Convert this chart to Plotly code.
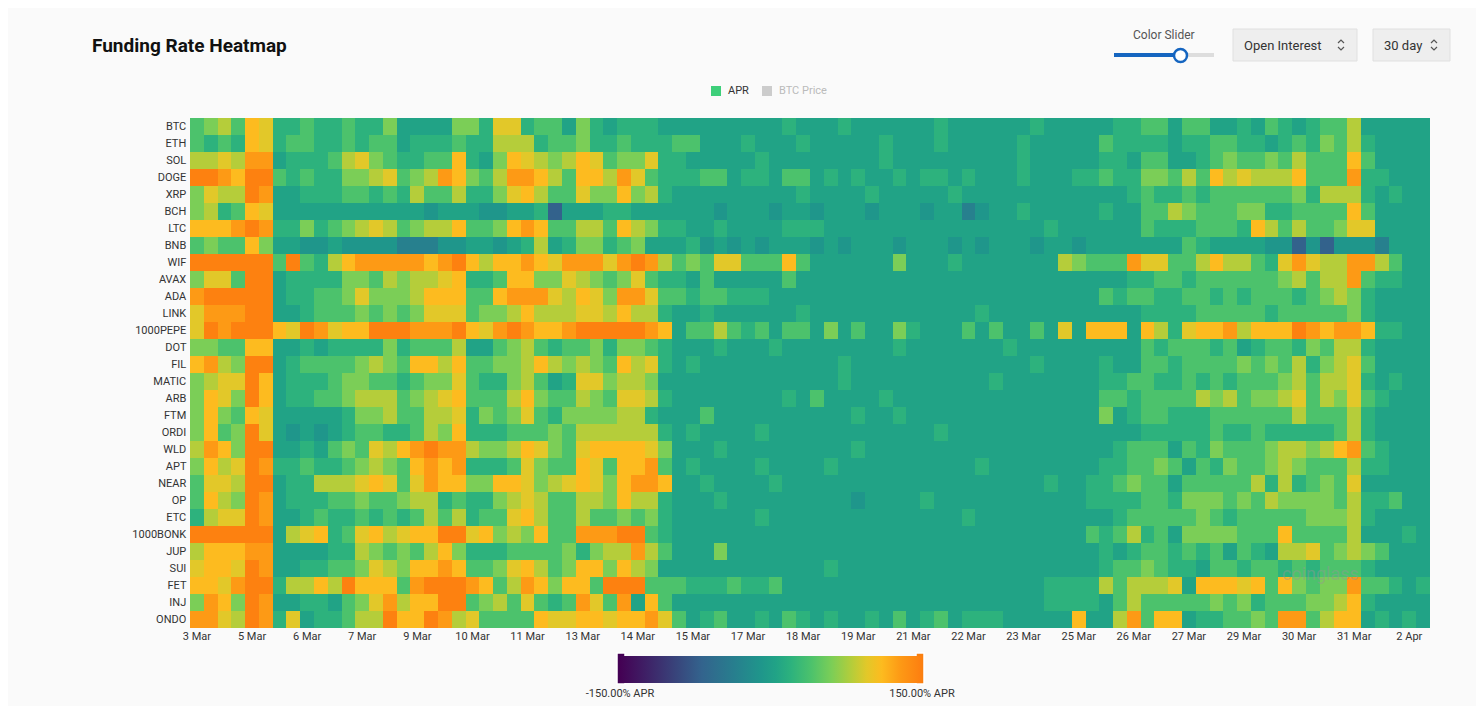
import plotly.graph_objects as go
import pandas as pd

coins = ['BTC','ETH','SOL','DOGE','XRP','BCH','LTC','BNB','WIF','AVAX','ADA','LINK','1000PEPE','DOT','FIL',
         'MATIC','ARB','FTM','ORDI','WLD','APT','NEAR','OP','ETC','1000BONK','JUP','SUI','FET','INJ','ONDO']

# funding level per 8h slot (a=most negative ... 9=hottest)
rows = {
 'BTC':  "34537622322322411114426623314212221"+"111111112111211111121111112111"+"1122331331121321233511111",
 'ETH':  "32327623322323312223225552334223222"+"331112111211111211121111121111"+"1322221223322123243521111",
 'SOL':  "55658812223564322337214765457634462"+"211111211111111211111111121111"+"1221331123433435333731111",
 'DOGE': "99879932322445634587435887537758632"+"223312213312121121221211121112"+"2322443537565557333822111",
 'XRP':  "46559811222332325335224675336447452"+"111111111211112111112111111111"+"1112322323333334255521211",
 'BCH':  "4523761111111111101110011"+"2a11122111"+"111011101101110111011"+"b"+"011"+"2"+"1111"+"1211335433344223333731111",
 'LTC':  "77789822423456534557334787335537542"+"211211112221111111111111111211"+"1111322233327535334661111",
 'BNB':  "343374110010000bbb00110125124423411"+"120101011101011101110101110110"+"111111132111100a0a000b111",
 'WIF':  "99999939325788888789757787688868985"+"3436633373"+"111111"+"4"+"111"+"2"+"1111111"+"54"+"3338663357553268655885311",
 'AVAX': "46639912222443545567223774465434632"+"213111113111111111111111111111"+"1112233233333345355832211",
 'ADA':  "89999912233464445777337888657648863"+"323322211111111111111111111111"+"1323322332323332345421111",
 'LINK': "68889911233343434666344575556657552"+"112111111211111111111121111111"+"1111222233333233333421111",
 '1000PEPE': "69899976986779998889768987789999987"+"133532313314131142111313113161"+"7771752677857779878872211",
 'DOT':  "44337711212222423335113453233424432"+"111211121111111121111111211111"+"1111323332312332435521111",
 'FIL':  "78549912333345437757334457545437562"+"121111111111211111111111112111"+"1211332333343435245631111",
 'MATIC':"45669712223443323446322453126645541"+"111111111111211111111112111111"+"1223322323233345355621211",
 'ARB':  "47649712233455534567333574335436652"+"111111112131111211111111111111"+"1332333354534456354632111",
 'FTM':  "47437611111244533556243463244445521"+"113111111111121121111111111111"+"1412332223333335333521111",
 'ORDI': "47349610101233223547222333435555552"+"121111211111111111121111111111"+"1111222223223222223521111",
 'WLD':  "58749911213436578988544576436777764"+"111211111111121111111111111111"+"1123331324333455457832111",
 'APT':  "47569822322345437878222364337637783"+"121111211112111111111121111111"+"1223343132433454333522111",
 'NEAR': "36659912255567636877447764567647887"+"112111121111111111111111111211"+"2234331333335252343611111",
 'OP':   "37549812223343345523224565335547552"+"111211111111101111211111111111"+"2222332444343544443522311",
 'ETC':  "25669811232232323535233675335334342"+"111111211111111111111211111111"+"1123333343233333444521111",
 '1000BONK': "99999915672367567799674547338889932"+"111111111111111111111111111111"+"3235231444433373333511121",
 'JUP':  "57778811112254343574222333342455853"+"111411111111111111111111111111"+"1212332323132155634543111",
 'SUI':  "67769811223346547787334675347747541"+"111111111112111111111111111111"+"1233432213323323233321111",
 'FET':  "77689925575977738999873587477399933"+"322232231111111111111111111222"+"2535556177767374344833212",
 'INJ':  "48749811221346857799345363238638173"+"111111111111111111111111111222"+"2135333334342333445721111",
 'ONDO': "88659826122355977985633337667767786"+"312311213212112131231222111117"+"1158377122334388357712121",
}
level = {'a':-70,'b':-35,'0':-10,'1':5,'2':20,'3':40,'4':60,'5':80,'6':95,'7':110,'8':128,'9':148}

times = pd.date_range('2024-03-03 16:00', periods=90, freq='8h')
z = []
for c in coins:
    s = (rows[c] + '1'*90)[:90]
    z.append([level[ch] for ch in s])

cscale = [[0,'#440154'],[0.27,'#33638d'],[0.38,'#277f8e'],[0.467,'#1f968b'],[0.517,'#21a386'],
          [0.567,'#2db27d'],[0.633,'#4cc26c'],[0.7,'#7bce57'],[0.767,'#b5cd3a'],[0.817,'#e2c829'],
          [0.867,'#fdbb1f'],[0.927,'#fd9a15'],[1,'#fd7e10']]

# page has an 8px body margin, so the figure is shifted 8px right/down
OFF = 8
def px2x(p): return (p-190)/1240
def px2y(p): return 1+(118-p)/510

fig = go.Figure(go.Heatmap(
    x=list(range(90)), y=coins, z=z, zmin=-150, zmax=150, colorscale=cscale,
    colorbar=dict(orientation='h', x=px2x(771), xanchor='center', y=px2y(646), yanchor='top',
                  len=322/1240, thickness=27, outlinewidth=0,
                  tickvals=[-150,150], ticktext=['-150.00% APR','150.00% APR'],
                  tickfont=dict(size=11, color='#333'), ticks='')))

tv = list(range(0, 90, 4))
tt = [times[i].strftime('%-d %b') for i in tv]
fig.update_xaxes(tickvals=tv, ticktext=tt, showgrid=False, zeroline=False,
                 tickfont=dict(size=11, color='#333'), range=[-0.5, 89.5])
fig.update_yaxes(autorange='reversed', showgrid=False, tickfont=dict(size=11, color='#333'), ticksuffix=' ')

def note(text, x, y, size, color, xanchor='center'):
    fig.add_annotation(text=text, x=px2x(x), y=px2y(y), xref='paper', yref='paper', xanchor=xanchor,
                       yanchor='middle', showarrow=False, font=dict(size=size, color=color))

# legend (APR / BTC Price)
fig.add_shape(type='rect', xref='paper', yref='paper', x0=px2x(711), x1=px2x(721),
              y0=px2y(96), y1=px2y(86), fillcolor='#3ecf7a', line_width=0)
note('APR', 726, 91, 11, '#333', 'left')
fig.add_shape(type='rect', xref='paper', yref='paper', x0=px2x(762), x1=px2x(772),
              y0=px2y(96), y1=px2y(86), fillcolor='#cccccc', line_width=0)
note('BTC Price', 777, 91, 11, '#bbb', 'left')

# colorbar end handles
for hx in (621, 920):
    fig.add_shape(type='rect', xref='paper', yref='paper', x0=px2x(hx-4), x1=px2x(hx+4), y0=px2y(684), y1=px2y(653),
                  fillcolor='#f97f10' if hx > 700 else '#440154', line=dict(color='#ffffff', width=1.5))

# header and controls
note('<b>Funding Rate Heatmap</b>', 90, 45, 19, '#111', 'left')
note('Color Slider', 1164, 35, 12, '#555')
fig.add_shape(type='line', xref='paper', yref='paper', x0=px2x(1114), x1=px2x(1214), y0=px2y(55), y1=px2y(55),
              line=dict(color='#ddd', width=4))
fig.add_shape(type='line', xref='paper', yref='paper', x0=px2x(1114), x1=px2x(1180), y0=px2y(55), y1=px2y(55),
              line=dict(color='#1565c0', width=4))
fig.add_shape(type='circle', xref='paper', yref='paper', x0=px2x(1174), x1=px2x(1187), y0=px2y(49), y1=px2y(62),
              fillcolor='white', line=dict(color='#1565c0', width=2.5))
for x0, x1, label in [(1233, 1357, 'Open Interest'), (1373, 1450, '30 day')]:
    fig.add_shape(type='rect', xref='paper', yref='paper', x0=px2x(x0), x1=px2x(x1), y0=px2y(29), y1=px2y(61),
                  fillcolor='#eeeeee', line=dict(color='#e0e0e0', width=1))
    note(label, x0 + 9, 45, 13, '#333', 'left')
    # up/down chevrons
    fig.add_shape(type='path', xref='paper', yref='paper', line=dict(color='#555', width=1.2),
                  path='M %f %f L %f %f L %f %f' % (px2x(x1-19), px2y(43), px2x(x1-16), px2y(40), px2x(x1-13), px2y(43)))
    fig.add_shape(type='path', xref='paper', yref='paper', line=dict(color='#555', width=1.2),
                  path='M %f %f L %f %f L %f %f' % (px2x(x1-19), px2y(47), px2x(x1-16), px2y(50), px2x(x1-13), px2y(47)))
note('coinglass', 1320, 573, 18, 'rgba(150,150,150,0.45)')

H = 706
fig.update_layout(width=1484 - 2*OFF, height=H,
                  margin=dict(l=190 - OFF, r=1484 - 1430 - OFF, t=118 - OFF, b=H - 510 - (118 - OFF), autoexpand=False),
                  paper_bgcolor='#fafafa', plot_bgcolor='#fafafa',
                  font=dict(family='Roboto, Noto Sans, sans-serif'))
fig.write_html("out.html")
